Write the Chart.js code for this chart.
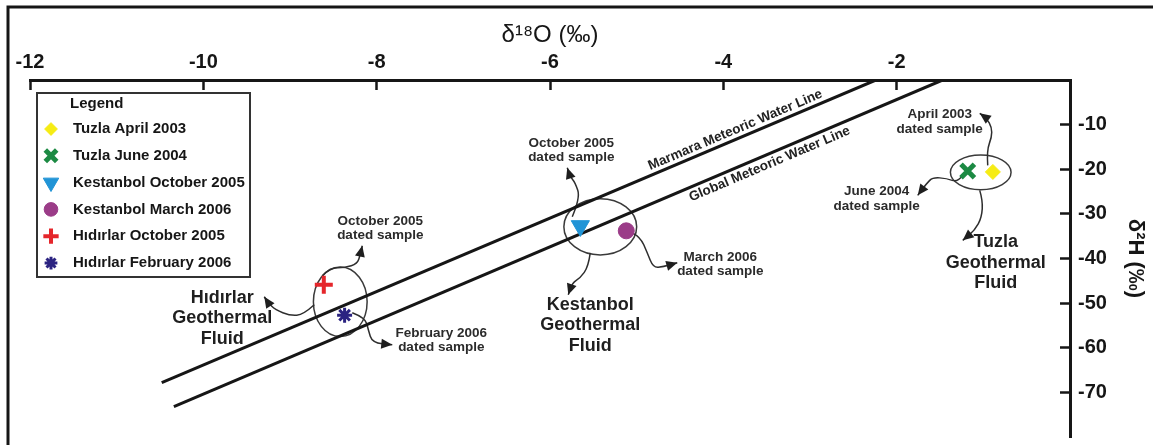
<!DOCTYPE html>
<html>
<head>
<meta charset="utf-8">
<script src="https://cdn.jsdelivr.net/npm/chart.js@4.4.1/dist/chart.umd.min.js"></script>
<style>
  html, body { margin: 0; padding: 0; background: #fff; }
  #wrap { position: relative; width: 1153px; height: 445px; }
</style>
</head>
<body>
<div id="wrap"><canvas id="isotope-chart"></canvas></div>
<script>
// Samples: δ18O (x) and δ2H (y), per mille
const sampleNames = [
  'Tuzla April 2003', 'Tuzla June 2004', 'Kestanbol October 2005',
  'Kestanbol March 2006', 'Hıdırlar October 2005', 'Hıdırlar February 2006',
];
const sampleO18 = [-0.89, -1.18, -5.65, -5.12, -8.61, -8.37];
const sampleH2 = [-20.6, -20.4, -32.7, -33.8, -45.9, -52.7];

// Meteoric water lines (end points)
const marmaraLineO18 = [-10.48, -2.24];
const marmaraLineH2 = [-67.8, 0];
const globalLineO18 = [-10.34, -1.47];
const globalLineH2 = [-73.2, 0];

// Tick labels
const xTickValues = [-12, -10, -8, -6, -4, -2];
const yTickValues = [-10, -20, -30, -40, -50, -60, -70];

// Fluid groups: ellipse centre and half sizes, per mille
const groupNames = ['Hıdırlar', 'Kestanbol', 'Tuzla'];
const groupO18 = [-8.42, -5.42, -1.03];
const groupH2 = [-49.7, -32.9, -20.7];
const groupRadiusO18 = [0.31, 0.42, 0.35];
const groupRadiusH2 = [7.8, 6.3, 3.9];

// Marker look for each sample
const markerStyles = [
  { style: 'rectRot', radius: 7.5, color: '#F6EC14', lineWidth: 1 },
  { style: 'crossRot', radius: 9.5, color: '#1C8A43', lineWidth: 5 },
  { style: 'triangle', radius: 10.5, color: '#2194D6', lineWidth: 1, rotation: 180 },
  { style: 'circle', radius: 8, color: '#9B3C88', lineWidth: 1 },
  { style: 'cross', radius: 9, color: '#E5262B', lineWidth: 4 },
  { style: 'star', radius: 7.5, color: '#2B2381', lineWidth: 3 },
];

// Call-outs: pixel offsets from the group ellipse centre
const callouts = [
  { group: 0, text: ['October 2005', 'dated sample'], at: [40, -81],
    path: [[-18, -26], [-10, -34], [5, -34], [17, -38], [20, -47], [22, -56]] },
  { group: 0, text: ['February 2006', 'dated sample'], at: [101, 31],
    path: [[12, 11], [25, 16], [28, 28], [32, 41], [52, 43]] },
  { group: 0, text: ['Hıdırlar', 'Geothermal', 'Fluid'], at: [-118, -4], big: true,
    path: [[-26, 3], [-37, 13], [-50, 14], [-65, 8], [-72, 1], [-76, -5]] },
  { group: 1, text: ['October 2005', 'dated sample'], at: [-29, -84],
    path: [[-28, -10], [-20, -29], [-25, -44], [-30, -50], [-33, -59]] },
  { group: 1, text: ['March 2006', 'dated sample'], at: [120, 30],
    path: [[32, 6], [40, 10], [47, 26], [53, 41], [63, 40], [77, 36]] },
  { group: 1, text: ['Kestanbol', 'Geothermal', 'Fluid'], at: [-10, 78], big: true,
    path: [[-10, 26], [-12, 40], [-20, 51], [-28, 56], [-32, 68]] },
  { group: 2, text: ['April 2003', 'dated sample'], at: [-41, -58],
    path: [[7, -7], [6, -22], [11, -35], [11, -45], [6, -54], [-1, -59]] },
  { group: 2, text: ['June 2004', 'dated sample'], at: [-104, 19],
    path: [[-18, 3], [-23, 10], [-34, 6], [-48, 5], [-54, 11], [-63, 23]] },
  { group: 2, text: ['Tuzla', 'Geothermal', 'Fluid'], at: [15, 70], big: true,
    path: [[-1, 18], [2, 28], [1, 45], [-6, 58], [-18, 68]] },
];

const ink = '#161616';
const fontFamily = '"Liberation Sans", Arial, Helvetica, sans-serif';
Chart.defaults.font.family = fontFamily;
Chart.defaults.color = ink;

// axes handle their own spacing, so keep tick labels from adding padding
const noPadding = () => ({ left: 0, top: 0, right: 0, bottom: 0 });

const drawMarker = (ctx, opts, x, y) => {
  if (Chart.helpers && Chart.helpers.drawPoint) {
    Chart.helpers.drawPoint(ctx, opts, x, y);
  }
};

// White page plus the frame round the figure
const framePlugin = {
  id: 'frame',
  beforeDraw(chart) {
    const { ctx, width, height } = chart;
    ctx.save();
    ctx.fillStyle = '#fff';
    ctx.fillRect(0, 0, width, height);
    ctx.strokeStyle = ink;
    ctx.lineWidth = 3;
    ctx.beginPath();
    ctx.moveTo(8, height);
    ctx.lineTo(8, 7);
    ctx.lineTo(width, 7);
    ctx.stroke();
    ctx.restore();
  },
};

// Ellipses, curly arrows and their texts
const calloutPlugin = {
  id: 'callouts',
  beforeDatasetsDraw(chart) {
    const { ctx, scales: { x, y } } = chart;
    const centres = groupNames.map((_, g) => ({
      cx: x.getPixelForValue(groupO18[g]),
      cy: y.getPixelForValue(groupH2[g]),
      rx: x.getPixelForValue(groupO18[g] + groupRadiusO18[g]) - x.getPixelForValue(groupO18[g]),
      ry: y.getPixelForValue(groupH2[g] - groupRadiusH2[g]) - y.getPixelForValue(groupH2[g]),
    }));

    ctx.save();
    ctx.strokeStyle = '#3a3a3a';
    ctx.lineWidth = 1.5;
    centres.forEach(c => {
      ctx.beginPath();
      ctx.ellipse(c.cx, c.cy, c.rx, c.ry, 0, 0, Math.PI * 2);
      ctx.stroke();
    });

    callouts.forEach(co => {
      const c = centres[co.group];
      const pts = co.path.map(p => [c.cx + p[0], c.cy + p[1]]);
      ctx.strokeStyle = '#2e2e2e';
      ctx.lineWidth = 1.5;
      ctx.beginPath();
      ctx.moveTo(pts[0][0], pts[0][1]);
      for (let i = 1; i < pts.length - 1; i++) {
        const mx = (pts[i][0] + pts[i + 1][0]) / 2;
        const my = (pts[i][1] + pts[i + 1][1]) / 2;
        ctx.quadraticCurveTo(pts[i][0], pts[i][1], mx, my);
      }
      const tip = pts[pts.length - 1];
      const prev = pts[pts.length - 2];
      ctx.lineTo(tip[0], tip[1]);
      ctx.stroke();

      // arrow head
      const a = Math.atan2(tip[1] - prev[1], tip[0] - prev[0]);
      ctx.fillStyle = '#1e1e1e';
      ctx.beginPath();
      ctx.moveTo(tip[0], tip[1]);
      ctx.lineTo(tip[0] - 11 * Math.cos(a) + 5 * Math.sin(a), tip[1] - 11 * Math.sin(a) - 5 * Math.cos(a));
      ctx.lineTo(tip[0] - 11 * Math.cos(a) - 5 * Math.sin(a), tip[1] - 11 * Math.sin(a) + 5 * Math.cos(a));
      ctx.closePath();
      ctx.fill();

      // text
      const size = co.big ? 18 : 13.5;
      const step = co.big ? 20.5 : 14.5;
      ctx.font = `bold ${size}px ${fontFamily}`;
      ctx.fillStyle = co.big ? '#1f1f1f' : '#2b2b2b';
      ctx.textAlign = 'center';
      ctx.textBaseline = 'middle';
      co.text.forEach((line, i) => {
        ctx.fillText(line, c.cx + co.at[0], c.cy + co.at[1] + i * step);
      });
    });
    ctx.restore();
  },
  afterDatasetsDraw(chart) {
    // texts along the two water lines
    const { ctx } = chart;
    const lineLabels = [
      { index: 6, t: 0.808, offset: -2, baseline: 'bottom' },
      { index: 7, t: 0.77, offset: 3, baseline: 'top' },
    ];
    ctx.save();
    ctx.font = `bold 13.5px ${fontFamily}`;
    ctx.fillStyle = '#222';
    lineLabels.forEach(l => {
      const pts = chart.getDatasetMeta(l.index).data;
      const p0 = pts[0], p1 = pts[1];
      const ang = Math.atan2(p1.y - p0.y, p1.x - p0.x);
      ctx.save();
      ctx.translate(p0.x + (p1.x - p0.x) * l.t, p0.y + (p1.y - p0.y) * l.t);
      ctx.rotate(ang);
      ctx.textAlign = 'center';
      ctx.textBaseline = l.baseline;
      ctx.fillText(chart.data.datasets[l.index].label, 0, l.offset);
      ctx.restore();
    });
    ctx.restore();
  },
};

// Boxed legend in the upper left of the plot
const boxLegendPlugin = {
  id: 'boxLegend',
  afterDraw(chart) {
    const { ctx, chartArea } = chart;
    const left = chartArea.left + 7;
    const top = chartArea.top + 13;
    const right = left + 213;
    const bottom = top + 184;
    ctx.save();
    ctx.strokeStyle = '#333';
    ctx.lineWidth = 2;
    ctx.fillStyle = '#fff';
    ctx.fillRect(left, top, right - left, bottom - top);
    ctx.strokeRect(left, top, right - left, bottom - top);

    ctx.fillStyle = ink;
    ctx.textAlign = 'left';
    ctx.textBaseline = 'middle';
    ctx.font = `bold 15px ${fontFamily}`;
    ctx.fillText('Legend', left + 33, top + 11);

    sampleNames.forEach((name, i) => {
      const ds = chart.data.datasets[i];
      const yy = top + 36 + i * 26.8;
      ctx.save();
      ctx.fillStyle = ds.pointBackgroundColor;
      ctx.strokeStyle = ds.pointBorderColor;
      ctx.lineWidth = ds.pointBorderWidth;
      drawMarker(ctx, {
        pointStyle: ds.pointStyle,
        rotation: ds.pointRotation,
        radius: ds.pointRadius * 0.85,
        borderWidth: ds.pointBorderWidth,
      }, left + 14, yy);
      ctx.restore();
      ctx.fillStyle = ink;
      ctx.fillText(name, left + 36, yy);
    });
    ctx.restore();
  },
};

const sampleDatasets = sampleNames.map((name, i) => ({
  label: name,
  data: [{ x: sampleO18[i], y: sampleH2[i] }],
  pointStyle: markerStyles[i].style,
  pointRotation: markerStyles[i].rotation || 0,
  pointRadius: markerStyles[i].radius,
  pointHoverRadius: markerStyles[i].radius,
  pointBackgroundColor: markerStyles[i].color,
  pointBorderColor: markerStyles[i].color,
  pointBorderWidth: markerStyles[i].lineWidth,
  pointHoverBorderWidth: markerStyles[i].lineWidth,
  order: 0,
}));

const waterLine = (label, xs, ys) => ({
  type: 'line',
  label,
  data: xs.map((v, i) => ({ x: v, y: ys[i] })),
  showLine: true,
  fill: false,
  borderColor: ink,
  borderWidth: 3,
  pointRadius: 0,
  pointHoverRadius: 0,
  order: 2,
});

const axisFont = { size: 20, weight: 'bold' };

new Chart(document.getElementById('isotope-chart'), {
  type: 'scatter',
  data: {
    datasets: [
      ...sampleDatasets,
      waterLine('Marmara Meteoric Water Line', marmaraLineO18, marmaraLineH2),
      waterLine('Global Meteoric Water Line', globalLineO18, globalLineH2),
    ],
  },
  options: {
    responsive: true,
    maintainAspectRatio: false,
    animation: false,
    events: [],
    layout: {
      autoPadding: false,
      padding: { left: 30, right: 0, top: 0, bottom: 8 },
    },
    scales: {
      x: {
        type: 'linear',
        position: 'top',
        min: -12,
        max: 0,
        afterBuildTicks: (scale) => {
          scale.ticks = xTickValues.map(value => ({ value }));
        },
        afterFit: (scale) => {
          scale.height = 80;
          scale.paddingLeft = 0;
          scale.paddingRight = 0;
          scale.getPadding = noPadding;
        },
        border: { display: true, color: ink, width: 3 },
        grid: {
          drawOnChartArea: false,
          drawTicks: true,
          tickLength: -10,
          tickColor: ink,
          tickWidth: 2.5,
        },
        ticks: {
          font: axisFont,
          color: ink,
          padding: 16,
          maxRotation: 0,
          autoSkip: false,
          callback: (v) => String(v),
        },
        title: {
          display: true,
          text: 'δ¹⁸O (‰)',
          color: ink,
          font: { size: 24 },
          padding: { top: 21, bottom: 0 },
        },
      },
      y: {
        type: 'linear',
        position: 'right',
        min: -80,
        max: 0,
        afterBuildTicks: (scale) => {
          scale.ticks = yTickValues.map(value => ({ value }));
        },
        afterFit: (scale) => {
          scale.width = 83;
          scale.paddingTop = 0;
          scale.paddingBottom = 0;
          scale.getPadding = noPadding;
        },
        border: { display: true, color: ink, width: 3 },
        grid: {
          drawOnChartArea: false,
          drawTicks: true,
          tickLength: -10,
          tickColor: ink,
          tickWidth: 2.5,
        },
        ticks: {
          font: axisFont,
          color: ink,
          padding: 18,
          autoSkip: false,
          callback: (v) => String(v),
        },
        title: {
          display: true,
          text: 'δ²H (‰)',
          color: ink,
          font: { size: 22, weight: 'bold' },
          padding: { top: 5, bottom: 0 },
        },
      },
    },
    plugins: {
      legend: { display: false },
      tooltip: { enabled: false },
    },
  },
  plugins: [framePlugin, calloutPlugin, boxLegendPlugin],
});
</script>
</body>
</html>
